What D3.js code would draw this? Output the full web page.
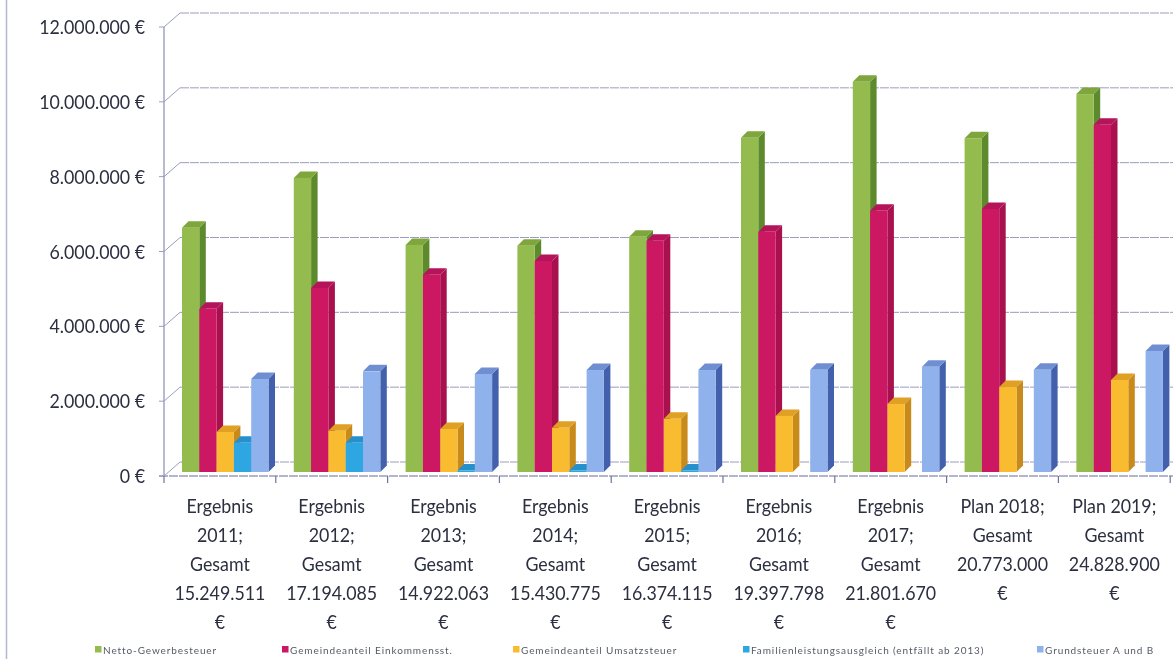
<!DOCTYPE html>
<html><head><meta charset="utf-8">
<script src="https://cdn.jsdelivr.net/npm/d3@7"></script>
<style>
html,body{margin:0;padding:0;background:#fff;overflow:hidden}
svg{display:block;filter:blur(0.3px)}
text{font-family:Lato,"Open Sans",sans-serif;fill:#2b2f3f}
</style></head><body>
<svg id="c" width="1173" height="659"></svg>
<script>
const categories=[
 ["Ergebnis","2011;","Gesamt","15.249.511","€"],
 ["Ergebnis","2012;","Gesamt","17.194.085","€"],
 ["Ergebnis","2013;","Gesamt","14.922.063","€"],
 ["Ergebnis","2014;","Gesamt","15.430.775","€"],
 ["Ergebnis","2015;","Gesamt","16.374.115","€"],
 ["Ergebnis","2016;","Gesamt","19.397.798","€"],
 ["Ergebnis","2017;","Gesamt","21.801.670","€"],
 ["Plan 2018;","Gesamt","20.773.000","€"],
 ["Plan 2019;","Gesamt","24.828.900","€"]
];
const gewerbe=[6530000,7860000,6070000,6050000,6290000,8930000,10430000,8920000,10100000];
const einkommen=[4360000,4920000,5270000,5640000,6180000,6420000,6980000,7030000,9280000];
const umsatz=[1070000,1100000,1150000,1180000,1420000,1500000,1820000,2270000,2460000];
const familien=[780000,780000,40000,40000,40000,0,0,0,0];
const grundsteuer=[2485000,2690000,2620000,2725000,2725000,2730000,2810000,2730000,3235000];
const seriesNames=["Netto-Gewerbesteuer","Gemeindeanteil Einkommensst.","Gemeindeanteil Umsatzsteuer","Familienleistungsausgleich (entfällt ab 2013)","Grundsteuer A und B"];
const seriesValues=[gewerbe,einkommen,umsatz,familien,grundsteuer];
const ticks=[0,2000000,4000000,6000000,8000000,10000000,12000000];
const front=["#93bb4d","#cc1763","#f9bb30","#2ea6e2","#90b2ec"];
const side=["#5c8a2c","#a8104e","#c98a1c","#1f7fb8","#4260ac"];
const topc=["#7ea63c","#b5135a","#dfa024","#2590cc","#6f8fd2"];
const legendX=[95,282,513,743,1037];

const svg=d3.select("#c");
const y=d3.scaleLinear().domain([0,12000000]).range([476,27]);
const x=d3.scaleBand().domain(d3.range(9)).range([164,1170.2]);
const inner=d3.scaleBand().domain(d3.range(5)).range([18,104.5]);
const wallDx=16, wallDy=-14, barDy=-4, depth=6.5, squeeze=0.89;
const gridC="#9a9dbc";
const fmt=v=>d3.format(",")(v).replace(/,/g,".")+" €";

svg.append("line").attr("x1",6.5).attr("x2",6.5).attr("y1",0).attr("y2",659).attr("stroke","#b4b8d2").attr("stroke-width",1.5);

ticks.forEach(t=>{
 const g=svg.append("g").attr("fill","none").attr("stroke",gridC);
 g.append("line").attr("x1",164+wallDx).attr("x2",1173).attr("y1",y(t)+wallDy).attr("y2",y(t)+wallDy).attr("stroke-width",1).attr("stroke-dasharray","9 1");
 g.append("line").attr("x1",164).attr("x2",164+wallDx).attr("y1",y(t)).attr("y2",y(t)+wallDy);
 g.append("line").attr("x1",159).attr("x2",164).attr("y1",y(t)).attr("y2",y(t));
 svg.append("text").attr("transform",`translate(145,${y(t)+7}) scale(${squeeze},1)`).attr("text-anchor","end").attr("font-size",20).text(fmt(t));
});
svg.append("line").attr("x1",164).attr("x2",164).attr("y1",y(12000000)).attr("y2",y(0)).attr("stroke",gridC).attr("stroke-width",1.4);
svg.append("line").attr("x1",159).attr("x2",1173).attr("y1",y(0)).attr("y2",y(0)).attr("stroke",gridC).attr("stroke-width",1.4).attr("stroke-dasharray","9 1");
d3.range(10).forEach(i=>{
 const tx=i<9?x(i):x(8)+x.step();
 svg.append("line").attr("x1",tx).attr("x2",tx).attr("y1",y(0)).attr("y2",y(0)+7).attr("stroke","#6f7396").attr("stroke-width",1.2);
});

categories.forEach((c,i)=>{
 seriesValues.forEach((vals,s)=>{
  const v=vals[i]; if(!v) return;
  const l=x(i)+inner(s), w=inner.bandwidth(), b=y(0)+barDy, t=y(v)+barDy;
  const g=svg.append("g");
  g.append("polygon").attr("fill",side[s]).attr("points",[[l+w,t],[l+w+depth,t-depth],[l+w+depth,b-depth],[l+w,b]].join(" "));
  g.append("polygon").attr("fill",topc[s]).attr("points",[[l,t],[l+depth,t-depth],[l+w+depth,t-depth],[l+w,t]].join(" "));
  g.append("rect").attr("x",l).attr("y",t).attr("width",w).attr("height",b-t).attr("fill",front[s]);
 });
 const cx=x(i)+x.bandwidth()/2;
 c.forEach((ln,k)=>svg.append("text").attr("transform",`translate(${cx},${513+k*29}) scale(${squeeze},1)`).attr("text-anchor","middle").attr("font-size",20).text(ln));
});

seriesNames.forEach((n,s)=>{
 svg.append("rect").attr("x",legendX[s]).attr("y",646).attr("width",6.5).attr("height",6.5).attr("fill",front[s]);
 svg.append("text").attr("x",legendX[s]+8).attr("y",653.5).attr("font-size",10).attr("letter-spacing",0.9).style("fill","#555a68").text(n);
});
</script>
</body></html>
